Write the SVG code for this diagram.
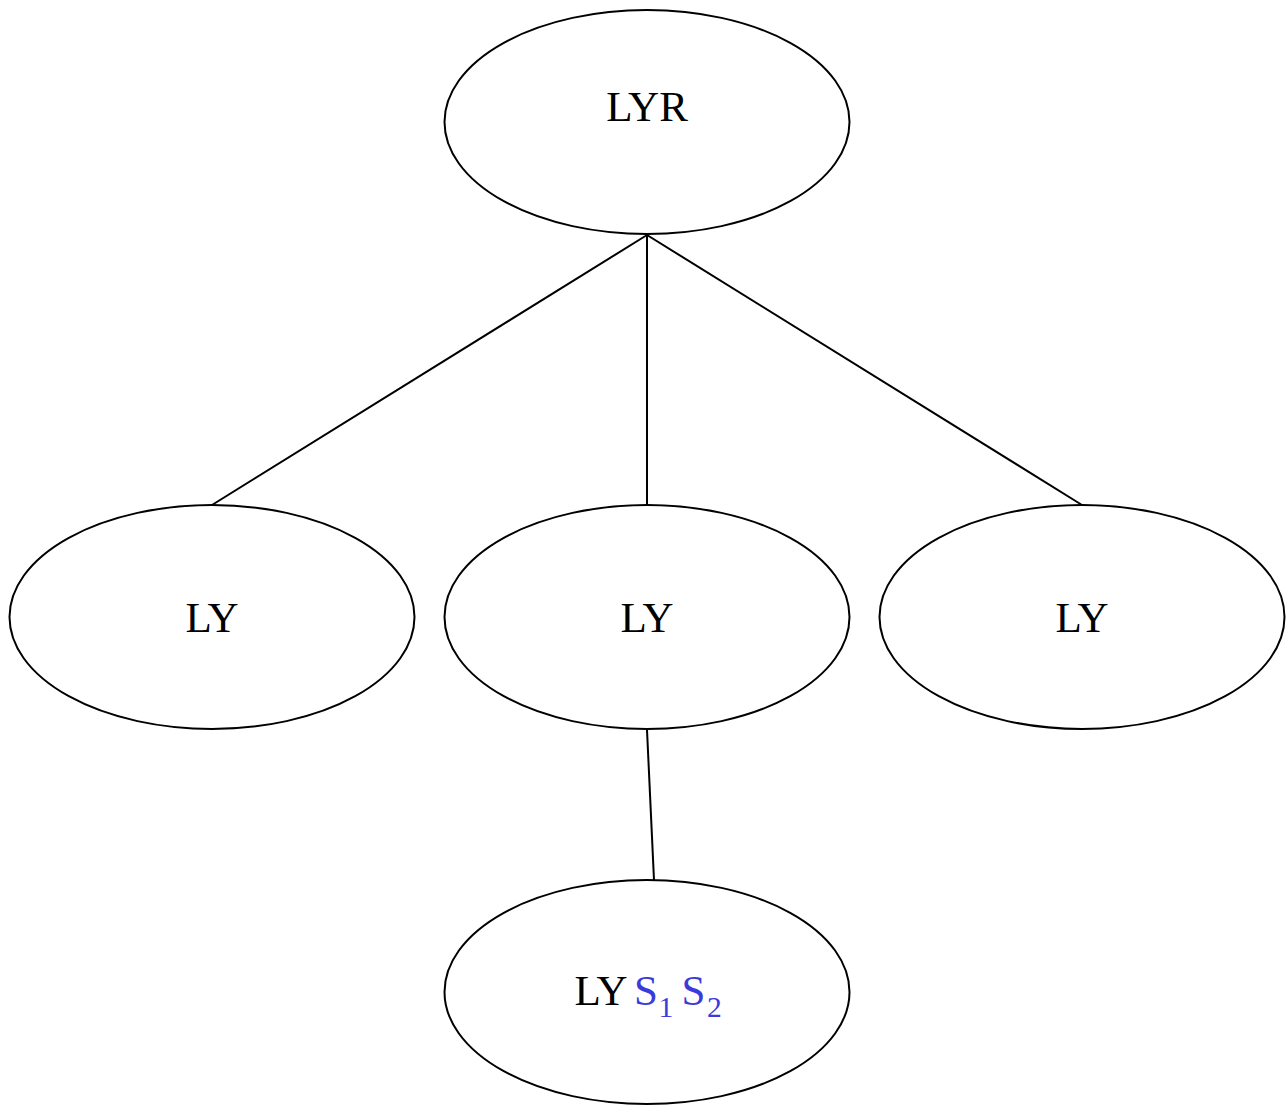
<svg xmlns="http://www.w3.org/2000/svg" width="1286" height="1105" viewBox="0 0 1286 1105">
  <style>
    .node ellipse { fill: none; stroke: #000; stroke-width: 2; }
    .node text { font-family: "Liberation Serif", "Times New Roman", serif; font-size: 43px; fill: #000; text-anchor: middle; }
    .node text.lbl { text-anchor: start; }
    .node text.sym { fill: #3b3bdb; }
    .node text.sub { font-size: 29.5px; }
    .edges line { stroke: #000; stroke-width: 2; }
  </style>
  <rect width="1286" height="1105" fill="#fff"/>
  <g class="edges">
    <line x1="647" y1="235" x2="212" y2="505"/>
    <line x1="647" y1="235" x2="647" y2="505"/>
    <line x1="647" y1="235" x2="1082" y2="505"/>
    <line x1="647" y1="730" x2="654" y2="880"/>
  </g>
  <g id="root" class="node">
    <ellipse cx="647" cy="122" rx="202.5" ry="112"/>
    <text x="647" y="121">LYR</text>
  </g>
  <g id="left" class="node">
    <ellipse cx="212" cy="617" rx="202.5" ry="112"/>
    <text x="212" y="631.5">LY</text>
  </g>
  <g id="middle" class="node">
    <ellipse cx="647" cy="617" rx="202.5" ry="112"/>
    <text x="647" y="631.5">LY</text>
  </g>
  <g id="right" class="node">
    <ellipse cx="1082" cy="617" rx="202.5" ry="112"/>
    <text x="1082" y="631.5">LY</text>
  </g>
  <g id="leaf" class="node">
    <ellipse cx="647" cy="992" rx="202.5" ry="112"/>
    <text class="lbl" x="574.5" y="1005">LY</text>
    <text class="lbl sym" x="634" y="1005">S</text>
    <text class="lbl sym sub" x="658.5" y="1016.5">1</text>
    <text class="lbl sym" x="681.5" y="1005">S</text>
    <text class="lbl sym sub" x="707" y="1016.5">2</text>
  </g>
</svg>
